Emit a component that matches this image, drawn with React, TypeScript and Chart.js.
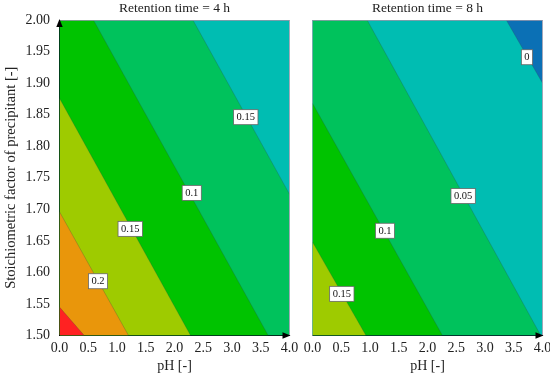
import React, { useEffect, useRef } from "react";
import { Chart, registerables } from "chart.js";
Chart.register(...registerables);

const FONT = "'Liberation Serif', 'Times New Roman', serif";
const TEXT = "#222";

// Axis tick values
const phTicks = [0, 0.5, 1, 1.5, 2, 2.5, 3, 3.5, 4];
const stoichTicks = [1.5, 1.55, 1.6, 1.65, 1.7, 1.75, 1.8, 1.85, 1.9, 1.95, 2.0];

// Colour of each response band, from lowest to highest
const bandColors = ["#0b70b5", "#00bdb2", "#00c25c", "#00c300", "#9ecb00", "#e9960b", "#ff2222"];

// Retention time = 4 h : contour lines (lowest level first)
const levels4h = [0.05, 0.1, 0.15, 0.2, 0.25];
const startPH4h = [2.32, 0.59, 0, 0, 0];
const startSF4h = [2.0, 2.0, 1.876, 1.696, 1.545];
const endPH4h = [4.0, 3.63, 2.28, 1.2, 0.43];
const endSF4h = [1.724, 1.5, 1.5, 1.5, 1.5];
const labelText4h = ["0.15", "0.1", "0.15", "0.2"];
const labelPH4h = [3.24, 2.3, 1.23, 0.67];
const labelSF4h = [1.846, 1.726, 1.669, 1.586];

// Retention time = 8 h : contour lines (lowest level first)
const levels8h = [0, 0.05, 0.1, 0.15];
const startPH8h = [3.37, 0.95, 0, 0];
const startSF8h = [2.0, 2.0, 1.868, 1.648];
const endPH8h = [4.0, 3.97, 2.26, 0.93];
const endSF8h = [1.9, 1.5, 1.5, 1.5];
const labelText8h = ["0", "0.05", "0.1", "0.15"];
const labelPH8h = [3.73, 2.62, 1.26, 0.51];
const labelSF8h = [1.941, 1.721, 1.666, 1.566];

type PanelDef = {
  title: string;
  firstBand: number;
  levels: number[];
  startPH: number[];
  startSF: number[];
  endPH: number[];
  endSF: number[];
  labelText: string[];
  labelPH: number[];
  labelSF: number[];
  showYLabels: boolean;
  yWidth: number;
  padRight: number;
  arrowUp: boolean;
};

const panel4h: PanelDef = {
  title: "Retention time = 4 h",
  firstBand: 1,
  levels: levels4h,
  startPH: startPH4h,
  startSF: startSF4h,
  endPH: endPH4h,
  endSF: endSF4h,
  labelText: labelText4h,
  labelPH: labelPH4h,
  labelSF: labelSF4h,
  showYLabels: true,
  yWidth: 59.5,
  padRight: 10.5,
  arrowUp: true,
};

const panel8h: PanelDef = {
  title: "Retention time = 8 h",
  firstBand: 0,
  levels: levels8h,
  startPH: startPH8h,
  startSF: startSF8h,
  endPH: endPH8h,
  endSF: endSF8h,
  labelText: labelText8h,
  labelPH: labelPH8h,
  labelSF: labelSF8h,
  showYLabels: false,
  yWidth: 12.5,
  padRight: 7.5,
  arrowUp: false,
};

function buildConfig(p: PanelDef): any {
  const xMin = phTicks[0];
  const xMax = phTicks[phTicks.length - 1];
  const yMin = stoichTicks[0];
  const yMax = stoichTicks[stoichTicks.length - 1];
  const datasets: any[] = [];
  // background band (lowest)
  datasets.push({
    data: [{ x: xMin, y: yMax }, { x: xMax, y: yMax }],
    showLine: true,
    fill: "start",
    backgroundColor: bandColors[p.firstBand],
    borderColor: "transparent",
    borderWidth: 0,
    pointRadius: 0,
    order: 100,
  });
  p.levels.forEach((lv, i) => {
    const pts: any[] = [];
    if (p.startSF[i] >= yMax && p.startPH[i] > xMin) pts.push({ x: xMin, y: yMax });
    pts.push({ x: p.startPH[i], y: p.startSF[i] });
    pts.push({ x: p.endPH[i], y: p.endSF[i] });
    datasets.push({
      label: String(lv),
      data: pts,
      showLine: true,
      fill: "start",
      backgroundColor: bandColors[p.firstBand + i + 1],
      borderColor: "transparent",
      borderWidth: 0,
      pointRadius: 0,
      order: 50 - i,
    });
    datasets.push({
      data: [
        { x: p.startPH[i], y: p.startSF[i] },
        { x: p.endPH[i], y: p.endSF[i] },
      ],
      showLine: true,
      fill: false,
      borderColor: "rgba(40,60,80,0.35)",
      borderWidth: 0.7,
      pointRadius: 0,
      order: 1,
    });
  });

  const labelPlugin = {
    id: "contourLabels",
    afterDatasetsDraw(chart: any) {
      const ctx = chart.ctx;
      const xs = chart.scales.x;
      const ys = chart.scales.y;
      ctx.save();
      ctx.font = `10.5px ${FONT}`;
      ctx.textAlign = "center";
      ctx.textBaseline = "middle";
      p.labelText.forEach((t, i) => {
        const px = xs.getPixelForValue(p.labelPH[i]);
        const py = ys.getPixelForValue(p.labelSF[i]);
        const w = ctx.measureText(t).width + 6;
        const h = 15;
        ctx.fillStyle = "#fff";
        ctx.fillRect(px - w / 2, py - h / 2, w, h);
        ctx.strokeStyle = "#666";
        ctx.lineWidth = 0.8;
        ctx.strokeRect(px - w / 2, py - h / 2, w, h);
        ctx.fillStyle = "#111";
        ctx.fillText(t, px, py + 0.5);
      });
      ctx.restore();
    },
  };

  const framePlugin = {
    id: "frameArrows",
    afterDraw(chart: any) {
      const ctx = chart.ctx;
      const a = chart.chartArea;
      ctx.save();
      ctx.strokeStyle = "rgba(150,150,170,0.8)";
      ctx.lineWidth = 1;
      ctx.beginPath();
      ctx.moveTo(a.left, a.top + 0.5);
      ctx.lineTo(a.right, a.top + 0.5);
      ctx.moveTo(Math.round(a.right) - 0.5, a.top);
      ctx.lineTo(Math.round(a.right) - 0.5, a.bottom);
      ctx.stroke();
      ctx.fillStyle = "#000";
      // x arrow
      ctx.beginPath();
      ctx.moveTo(a.right + 1, a.bottom);
      ctx.lineTo(a.right - 7, a.bottom - 3.2);
      ctx.lineTo(a.right - 7, a.bottom + 3.2);
      ctx.closePath();
      ctx.fill();
      if (p.arrowUp) {
        ctx.beginPath();
        ctx.moveTo(a.left, a.top - 1);
        ctx.lineTo(a.left - 3.2, a.top + 7);
        ctx.lineTo(a.left + 3.2, a.top + 7);
        ctx.closePath();
        ctx.fill();
      }
      ctx.restore();
    },
  };

  return {
    type: "scatter",
    data: { datasets },
    plugins: [labelPlugin, framePlugin],
    options: {
      animation: false,
      responsive: false,
      devicePixelRatio: 1,
      layout: { padding: { left: 0, right: p.padRight, top: 0, bottom: 0 } },
      plugins: {
        legend: { display: false },
        tooltip: { enabled: false },
        title: {
          display: true,
          text: p.title,
          font: { family: FONT, size: 13.5, weight: "normal" },
          color: TEXT,
          padding: { top: 0, bottom: 3.8 },
          fullSize: false,
        },
      },
      scales: {
        x: {
          type: "linear",
          min: xMin,
          max: xMax,
          z: 1,
          afterBuildTicks: (s: any) => {
            s.ticks = phTicks.map((v) => ({ value: v }));
          },
          ticks: {
            callback: (v: any) => Number(v).toFixed(1),
            font: { family: FONT, size: 14 },
            color: TEXT,
            padding: 4.4,
            maxRotation: 0,
            autoSkip: false,
          },
          grid: { display: false, drawTicks: false },
          border: { display: true, color: "#000", width: 1 },
          title: {
            display: true,
            text: "pH [-]",
            font: { family: FONT, size: 14 },
            color: TEXT,
            padding: { top: 0, bottom: 0 },
          },
          afterFit: (s: any) => {
            s.height = 39.5;
            s.paddingLeft = 0;
            s.paddingRight = 0;
          },
        },
        y: {
          type: "linear",
          min: yMin,
          max: yMax,
          z: 1,
          afterBuildTicks: (s: any) => {
            s.ticks = stoichTicks.map((v) => ({ value: v }));
          },
          ticks: {
            display: p.showYLabels,
            callback: (v: any) => Number(v).toFixed(2),
            font: { family: FONT, size: 14 },
            color: TEXT,
            padding: 9.5,
            autoSkip: false,
          },
          grid: { display: false, drawTicks: false },
          border: { display: true, color: p.showYLabels ? "#000" : "rgba(150,150,170,0.8)", width: 1 },
          title: {
            display: p.showYLabels,
            text: "Stoichiometric factor of precipitant [-]",
            font: { family: FONT, size: 14.5 },
            color: TEXT,
            padding: { top: 2, bottom: 0 },
          },
          afterFit: (s: any) => {
            s.width = p.yWidth;
            s.paddingTop = 0;
            s.paddingBottom = 0;
          },
        },
      },
    },
  };
}

function Panel({ def, left, width }: { def: PanelDef; left: number; width: number }) {
  const ref = useRef<HTMLCanvasElement>(null);
  useEffect(() => {
    const chart = new Chart(ref.current as HTMLCanvasElement, buildConfig(def));
    return () => chart.destroy();
  }, [def]);
  return (
    <div style={{ position: "absolute", left, top: 0, width, height: 375 }}>
      <canvas ref={ref} width={width} height={375} style={{ display: "block", width, height: 375 }} />
    </div>
  );
}

export default function App() {
  return (
    <div style={{ position: "absolute", left: 0, top: 0, width: 550, height: 375, background: "#fff", overflow: "hidden" }}>
      <Panel def={panel4h} left={0} width={300} />
      <Panel def={panel8h} left={300} width={250} />
    </div>
  );
}
